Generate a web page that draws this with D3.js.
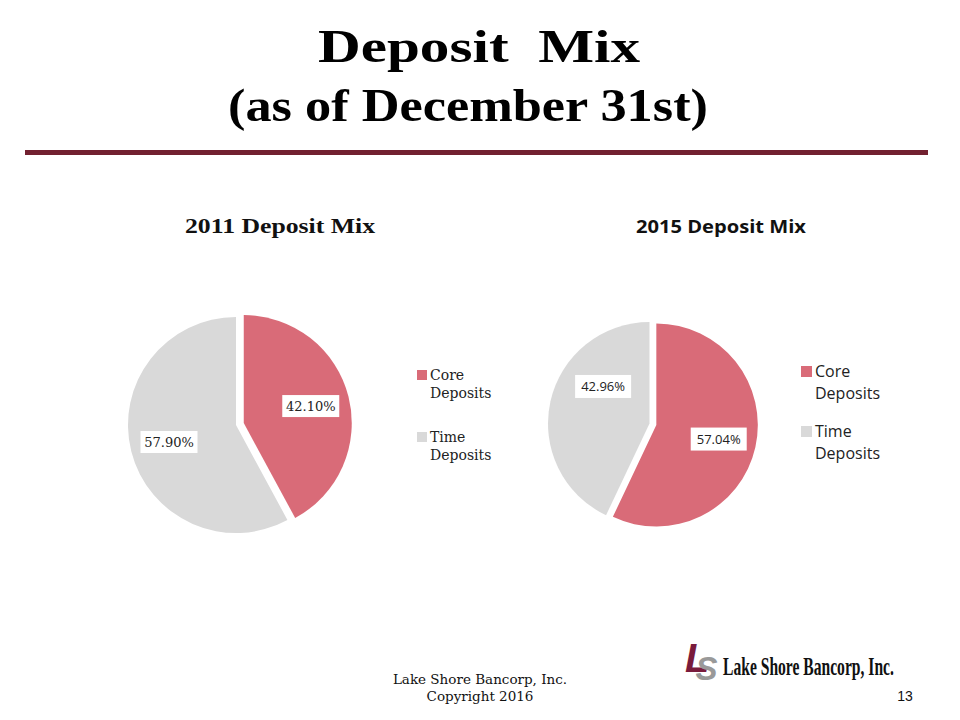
<!DOCTYPE html>
<html><head><meta charset="utf-8">
<script src="https://cdn.jsdelivr.net/npm/d3@7"></script>
<style>body{margin:0;background:#fff}svg{display:block}</style>
</head><body>
<script>
const categories = ["Core Deposits", "Time Deposits"];
const values2011 = [42.10, 57.90];
const values2015 = [57.04, 42.96];
const chartTitles = ["2011 Deposit Mix", "2015 Deposit Mix"];
const mainTitle = ["Deposit\u00a0 Mix", "(as of December 31st)"];
const colors = ["#D96B78", "#D9D9D9"];

const W = 960, H = 720;
const svg = d3.select("body").append("svg").attr("width", W).attr("height", H);

// Title
const serifBold = "'Liberation Serif', 'DejaVu Serif', serif";
svg.append("text").attr("x", 318).attr("y", 62)
  .attr("font-family", serifBold).attr("font-weight", "bold").attr("font-size", 46)
  .attr("textLength", 322).attr("lengthAdjust", "spacingAndGlyphs").text(mainTitle[0]);
svg.append("text").attr("x", 228).attr("y", 121)
  .attr("font-family", serifBold).attr("font-weight", "bold").attr("font-size", 46)
  .attr("textLength", 480).attr("lengthAdjust", "spacingAndGlyphs").text(mainTitle[1]);
svg.append("rect").attr("x", 25).attr("y", 150).attr("width", 903).attr("height", 5).attr("fill", "#722130");

const charts = [
  { values: values2011, title: chartTitles[0], cx: 236, cy: 425, r: 108, explode: 8,
    titleX: 185, titleW: 190, font: "'DejaVu Serif', serif", titleFont: "'Liberation Serif', serif", titleSize: 21, labelSize: 13, legendSize: 14,
    legX: 417, legY: 370, legGap: 62, lineH: 18, labelR: 0.64, shift: [[0,0],[0,0]], boxW: 57, boxH: 22, sq: 10 },
  { values: values2015, title: chartTitles[1], cx: 649.5, cy: 423.5, r: 101.5, explode: 7,
    titleX: 636, titleW: 170, font: "'Open Sans', sans-serif", titleFont: "'Open Sans', sans-serif", titleSize: 18, labelSize: 13, legendSize: 16,
    legX: 801, legY: 366, legGap: 60, lineH: 22, labelR: 0.63, shift: [[0,0],[16,-23]], boxW: 56, boxH: 23, sq: 11 }
];

charts.forEach(c => {
  const g = svg.append("g");
  g.append("text").attr("x", c.titleX).attr("y", 233)
    .attr("font-family", c.titleFont).attr("font-weight", "bold").attr("font-size", c.titleSize)
    .attr("textLength", c.titleW).attr("lengthAdjust", "spacingAndGlyphs").attr("fill", "#111").text(c.title);
  const pie = d3.pie().sort(null).value(d => d)(c.values);
  const arc = d3.arc().innerRadius(0).outerRadius(c.r);
  const labelArc = d3.arc().innerRadius(c.labelR * c.r).outerRadius(c.labelR * c.r);
  pie.forEach((p, i) => {
    const mid = (p.startAngle + p.endAngle) / 2;
    const off = i === 0 ? c.explode : 0;
    const ox = c.cx + off * Math.sin(mid), oy = c.cy - off * Math.cos(mid);
    g.append("path").attr("d", arc(p)).attr("fill", colors[i])
      .attr("transform", `translate(${ox},${oy})`);
    const [lx, ly] = labelArc.centroid(p);
    const tx = ox + lx + c.shift[i][0], ty = oy + ly + c.shift[i][1];
    g.append("rect").attr("x", tx - c.boxW / 2).attr("y", ty - c.boxH / 2)
      .attr("width", c.boxW).attr("height", c.boxH).attr("fill", "#fff");
    g.append("text").attr("x", tx).attr("y", ty).attr("dy", "0.35em").attr("text-anchor", "middle")
      .attr("font-family", c.font).attr("font-size", c.labelSize).attr("fill", "#222")
      .text(d3.format(".2f")(c.values[i]) + "%");
  });
  // legend
  categories.forEach((cat, i) => {
    const y0 = c.legY + i * c.legGap;
    g.append("rect").attr("x", c.legX).attr("y", y0).attr("width", c.sq).attr("height", c.sq).attr("fill", colors[i]);
    const words = cat.split(" ");
    words.forEach((w, j) => {
      g.append("text").attr("x", c.legX + c.sq + 3).attr("y", y0 + c.sq + j * c.lineH)
        .attr("font-family", c.font).attr("font-size", c.legendSize).attr("fill", "#222").text(w);
    });
  });
});

// footer
const footFont = "'DejaVu Serif', serif";
svg.append("text").attr("x", 480).attr("y", 684).attr("text-anchor", "middle")
  .attr("font-family", footFont).attr("font-size", 13.5).attr("fill", "#111").text("Lake Shore Bancorp, Inc.");
svg.append("text").attr("x", 480).attr("y", 701).attr("text-anchor", "middle")
  .attr("font-family", footFont).attr("font-size", 13.5).attr("fill", "#111").text("Copyright 2016");
svg.append("text").attr("x", 905).attr("y", 701).attr("text-anchor", "middle")
  .attr("font-family", "'Liberation Sans', sans-serif").attr("font-size", 14).attr("fill", "#111").text("13");

// logo
const logoMark = svg.append("text").attr("x", 685).attr("y", 672)
  .attr("font-family", "'Liberation Sans', sans-serif").attr("font-weight", "bold").attr("font-style", "italic");
logoMark.append("tspan").attr("font-size", 40).attr("fill", "#7a1b3c").text("L");
logoMark.append("tspan").attr("font-size", 33).attr("fill", "#999").attr("dx", -14).attr("dy", 8).text("S");
svg.append("text").attr("transform", "translate(723,675) scale(0.6,1)").attr("font-family", serifBold)
  .attr("font-weight", "bold").attr("font-size", 26)
  .attr("fill", "#111").text("Lake Shore Bancorp, Inc.");
</script>
</body></html>
